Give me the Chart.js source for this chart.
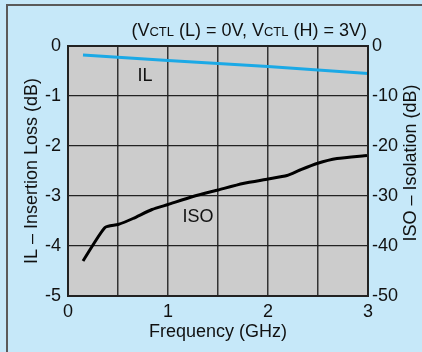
<!DOCTYPE html>
<html>
<head>
<meta charset="utf-8">
<script src="https://cdn.jsdelivr.net/npm/chart.js@4/dist/chart.umd.min.js"></script>
<style>
html,body{margin:0;padding:0;background:#C6E8F9;}
#wrap{width:422px;height:352px;position:relative;}
</style>
</head>
<body>
<div id="wrap"><canvas id="c" width="422" height="352"></canvas></div>
<script>
// ---- data ----
const ilFreq = [0.15, 1.0, 2.0, 3.0];
const ilValues = [-0.18, -0.29, -0.41, -0.55];
const isoFreq = [0.15, 0.37, 0.5, 0.65, 0.84, 1.0, 1.25, 1.5, 1.75, 2.0, 2.19, 2.32, 2.49, 2.69, 2.99];
const isoValues = [-43.0, -36.3, -35.7, -34.5, -32.7, -31.7, -30.1, -28.8, -27.5, -26.6, -25.9, -24.8, -23.5, -22.5, -21.9];
const xTickLabels = ['0', '1', '2', '3'];
const titleParts = [['(V', false], ['CTL', true], [' (L) = 0V, V', false], ['CTL', true], [' (H) = 3V)', false]];
const leftTitle = 'IL \u2013 Insertion Loss (dB)';
const rightTitle = 'ISO \u2013 Isolation (dB)';
const xTitle = 'Frequency (GHz)';
const seriesLabels = [['IL', 0.77, -0.6, 'y'], ['ISO', 1.3, -3.42, 'y']];

const FONT = '"Liberation Sans", Arial, sans-serif';
const FS = 18;

const bgPlugin = {
  id: 'bg',
  beforeDraw(chart) {
    const ctx = chart.ctx;
    ctx.save();
    ctx.fillStyle = '#C6E8F9';
    ctx.fillRect(0, 0, chart.width, chart.height);
    ctx.strokeStyle = '#5a5a5a';
    ctx.lineWidth = 2;
    ctx.beginPath();
    ctx.moveTo(7, chart.height + 2);
    ctx.lineTo(7, 5);
    ctx.lineTo(chart.width + 2, 5);
    ctx.stroke();
    const a = chart.chartArea;
    ctx.fillStyle = '#CCCCCC';
    ctx.fillRect(a.left, a.top, a.right - a.left, a.bottom - a.top);
    ctx.restore();
  },
  afterDraw(chart) {
    const ctx = chart.ctx;
    const a = chart.chartArea;
    ctx.save();
    // plot frame
    ctx.strokeStyle = '#222';
    ctx.lineWidth = 2;
    ctx.strokeRect(a.left, a.top, a.right - a.left, a.bottom - a.top);
    // title with small caps
    ctx.fillStyle = '#111';
    ctx.textBaseline = 'alphabetic';
    let total = 0;
    const widths = titleParts.map(([t, sc]) => {
      ctx.font = (sc ? Math.round(FS * 0.72) : FS) + 'px ' + FONT;
      const w = ctx.measureText(t).width;
      total += w;
      return w;
    });
    let x = 367 - total;
    titleParts.forEach(([t, sc], i) => {
      ctx.font = (sc ? Math.round(FS * 0.72) : FS) + 'px ' + FONT;
      ctx.textAlign = 'left';
      ctx.fillText(t, x, 36);
      x += widths[i];
    });
    // right title
    ctx.font = FS + 'px ' + FONT;
    ctx.translate(411, 163);
    ctx.rotate(-Math.PI / 2);
    ctx.textAlign = 'center';
    ctx.textBaseline = 'middle';
    ctx.fillText(rightTitle, 0, 0);
    ctx.restore();
    // series labels
    ctx.save();
    ctx.font = FS + 'px ' + FONT;
    ctx.fillStyle = '#111';
    ctx.textAlign = 'center';
    ctx.textBaseline = 'middle';
    seriesLabels.forEach(([t, fx, fy, ax]) => {
      ctx.fillText(t, chart.scales.x.getPixelForValue(fx), chart.scales[ax].getPixelForValue(fy));
    });
    ctx.restore();
  }
};

new Chart(document.getElementById('c'), {
  type: 'line',
  data: {
    datasets: [
      {
        label: 'IL',
        data: ilFreq.map((f, i) => ({x: f, y: ilValues[i]})),
        yAxisID: 'y',
        borderColor: '#1BA9E6',
        borderWidth: 3,
        pointRadius: 0,
        tension: 0
      },
      {
        label: 'ISO',
        data: isoFreq.map((f, i) => ({x: f, y: isoValues[i]})),
        yAxisID: 'y2',
        borderColor: '#000',
        borderWidth: 3,
        pointRadius: 0,
        tension: 0.2
      }
    ]
  },
  options: {
    responsive: false,
    animation: false,
    devicePixelRatio: 1,
    layout: {padding: {top: 46, left: 0, right: 0, bottom: 0}},
    plugins: {legend: {display: false}, tooltip: {enabled: false}, title: {display: false}},
    scales: {
      x: {
        type: 'linear', min: 0, max: 3,
        border: {display: false},
        grid: {color: '#333', lineWidth: 1.5, drawTicks: false},
        ticks: {
          stepSize: 0.5, padding: 5, color: '#111', font: {family: FONT, size: FS},
          maxRotation: 0, autoSkip: false,
          callback: (v) => Number.isInteger(v) ? xTickLabels[v] : ''
        },
        title: {display: true, text: xTitle, color: '#111', font: {family: FONT, size: FS}, padding: {top: 0, bottom: 9}},
        afterFit: (s) => { s.height = 56; }
      },
      y: {
        position: 'left', min: -5, max: 0,
        border: {display: false},
        grid: {color: '#222', lineWidth: 1.2, drawTicks: false},
        ticks: {stepSize: 1, padding: 7, color: '#111', font: {family: FONT, size: FS}},
        title: {display: true, text: leftTitle, color: '#111', font: {family: FONT, size: FS}, padding: {top: 21, bottom: 0}},
        afterFit: (s) => { s.width = 68; }
      },
      y2: {
        position: 'right', min: -50, max: 0,
        border: {display: false},
        grid: {drawOnChartArea: false, drawTicks: false},
        ticks: {stepSize: 10, padding: 4, color: '#111', font: {family: FONT, size: FS}},
        afterFit: (s) => { s.width = 54; }
      }
    }
  },
  plugins: [bgPlugin]
});
</script>
</body>
</html>
